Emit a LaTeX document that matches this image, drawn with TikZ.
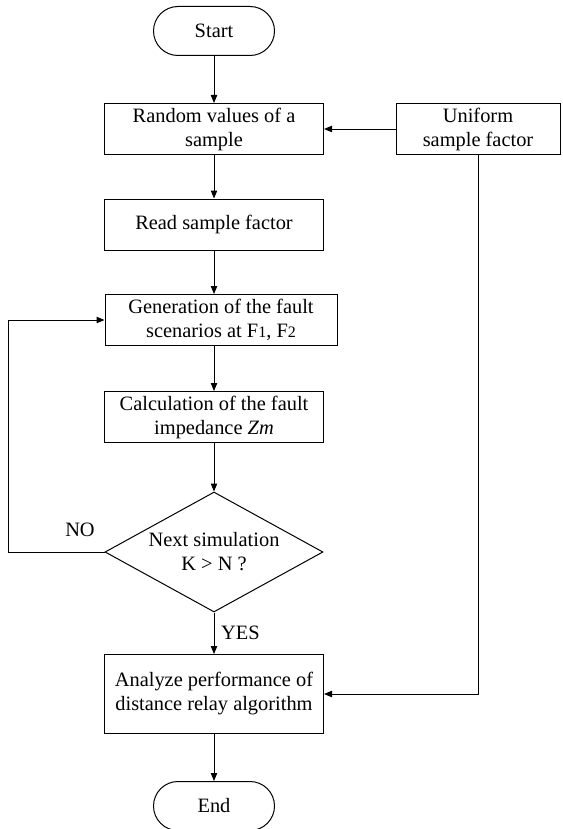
\documentclass[tikz,border=0pt]{standalone}
\usepackage{fontspec}
\setmainfont{Liberation Serif}
\usetikzlibrary{arrows.meta, shapes.geometric, shapes.misc}

\begin{document}
\begin{tikzpicture}[x=0.5pt, y=-0.5pt,
  every node/.style={font=\fontsize{10.2}{12}\selectfont},
  term/.style={rounded rectangle, draw, line width=0.5pt, minimum width=60.5pt, minimum height=24.5pt, inner sep=0pt},
  proc/.style={rectangle, draw, line width=0.5pt, align=center, minimum width=109.5pt, minimum height=25.5pt, inner sep=0pt},
  test/.style={diamond, draw, line width=0.5pt, align=center, aspect=1.82, minimum width=109pt, minimum height=60pt, inner sep=0pt},
  arr/.style={line width=0.5pt, -{Triangle[length=4pt, width=3.2pt]}}]
\useasboundingbox (0,0) rectangle (562,829);
% steps of the flow
\node[term] (start) at (214,31) {Start};
\node[proc] (rand) at (214,129) {Random values of a\\sample};
\node[proc, minimum width=82pt] (unif) at (478,129) {Uniform\\sample factor};
\node[proc] (read) at (214,224.5) {Read sample factor};
\node[proc, minimum width=116pt] (gen) at (221,320) {Generation of the fault\\scenarios at F{\footnotesize 1}, F{\footnotesize 2}};
\node[proc] (calc) at (214,417) {Calculation of the fault\\impedance \textit{Zm}};
\node[test] (dec) at (214,552) {Next simulation\\K > N ?};
\node[proc, minimum height=39.5pt] (anal) at (214,694) {Analyze performance of\\distance relay algorithm};
\node[term] (stop) at (214,806) {End};
\coordinate (loop) at (8,552);
% connectors
\draw[arr] (start) -- (rand);
\draw[arr] (rand) -- (read);
\draw[arr] (read.south) -- (read.south |- gen.north);
\draw[arr] (gen.south -| calc.north) -- (calc.north);
\draw[arr] (calc) -- (dec);
\draw[arr] (dec.south) -- node[right] {YES} (anal.north);
\draw[arr] (anal) -- (stop);
\draw[arr] (unif) -- (rand);
\draw[arr] (unif.south) |- (anal.east);
\draw[arr] (dec.west) -- (loop) |- (gen.west);
\node (no) at (80,530) {NO};
\end{tikzpicture}
\end{document}
